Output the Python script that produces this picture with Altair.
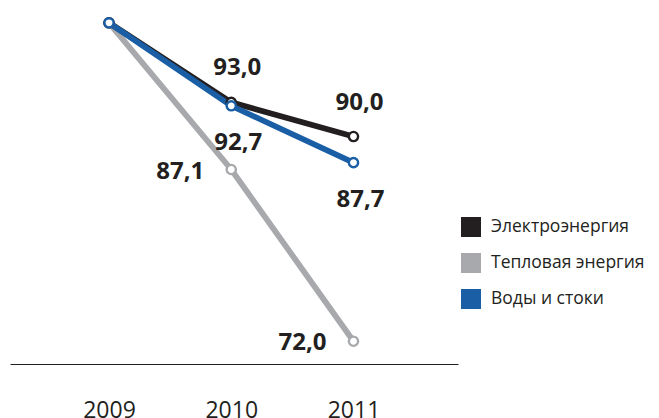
import altair as alt
import pandas as pd

years = [2009, 2010, 2011]
series_names = ["Электроэнергия", "Тепловая энергия", "Воды и стоки"]
electro = [100.0, 93.0, 90.0]
heat = [100.0, 87.1, 72.0]
water = [100.0, 92.7, 87.7]
colors = ["#231f20", "#a7a9ac", "#1a5ea5"]

# draw order: heat (back), electro, water (front)
rows = []
for name, vals in [(series_names[1], heat), (series_names[0], electro), (series_names[2], water)]:
    for y, v in zip(years, vals):
        rows.append({"year": y, "series": name, "value": v,
                     "label": f"{v:.1f}".replace(".", ",")})
df = pd.DataFrame(rows)

FONT = "Open Sans"
TXT = "#231f20"

legend = alt.Legend(
    orient="none", legendX=451, legendY=209, padding=0, title=None,
    symbolType="square", symbolSize=400, symbolStrokeWidth=0, symbolOpacity=1,
    labelFontSize=17.5, labelFont=FONT, labelLimit=300,
    labelColor=TXT, labelOffset=10, rowPadding=16,
)

x = alt.X("year:Q", scale=alt.Scale(domain=[2008.19, 2011.855], nice=False, zero=False),
          axis=alt.Axis(values=years, format="d", ticks=False, grid=False, domain=True,
                        domainColor=TXT, domainWidth=1, labelFontSize=23, labelFont=FONT,
                        labelColor=TXT, labelPadding=35, title=None))
y = alt.Y("value:Q", scale=alt.Scale(domain=[70, 101.3], nice=False, zero=False), axis=None)
color = alt.Color("series:N", scale=alt.Scale(domain=series_names, range=colors), legend=None)

base = alt.Chart(df)
lines = base.mark_line(strokeWidth=5.8).encode(x=x, y=y, color=color)
points = base.mark_point(shape="circle", filled=False, fill="white", fillOpacity=1,
                         opacity=1, size=85, strokeWidth=2.4).encode(x=x, y=y, color=color)
legend_layer = base.mark_square(opacity=0, size=1).encode(
    x=x, y=y,
    fill=alt.Fill("series:N", scale=alt.Scale(domain=series_names, range=colors), legend=legend),
)

def labels(name, dx, dy):
    return base.transform_filter(
        (alt.datum.series == name) & (alt.datum.year > 2009)
    ).mark_text(font=FONT, fontWeight="bold", fontSize=24, color=TXT,
                dx=dx, dy=dy, align="center", baseline="middle").encode(x=x, y=y, text="label:N")

chart = alt.layer(
    legend_layer, lines, points,
    labels(series_names[0], 6, -34),
    labels(series_names[2], 7, 37),
    labels(series_names[1], -51, 2),
).properties(
    width=448, height=356,
    padding={"left": 2, "top": 0, "right": 191, "bottom": 62},
    autosize=alt.AutoSizeParams(type="none"),
    background="white",
).configure_view(stroke=None)

chart.save("out.html", embed_options={"renderer": "svg", "actions": False})
